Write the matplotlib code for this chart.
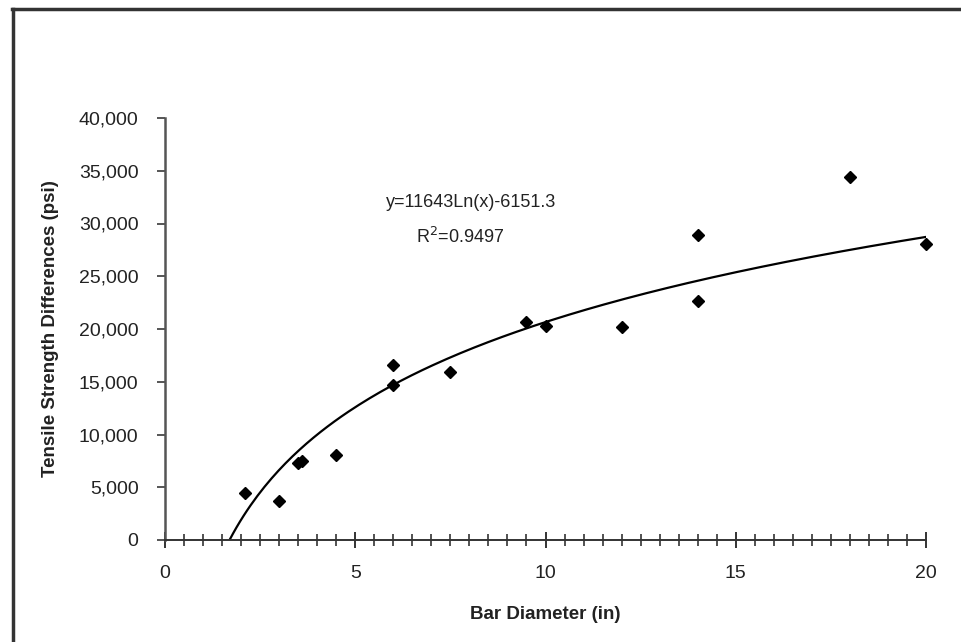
import numpy as np
import matplotlib.pyplot as plt
from matplotlib.ticker import MultipleLocator, FuncFormatter
from matplotlib.lines import Line2D

plt.rcParams['font.family'] = ['Liberation Sans', 'DejaVu Sans']

bar_diameter = [2.1, 3.0, 3.5, 3.6, 4.5, 6.0, 6.0, 7.5, 9.5, 10.0, 12.0, 14.0, 14.0, 18.0, 20.0]
strength_diff = [4450, 3650, 7300, 7500, 8050, 16600, 14700, 15900, 20700, 20250, 20150, 28900, 22650, 34400, 28100]

# logarithmic trendline given on the chart
coef_a = 11643
coef_b = -6151.3
eq_text = 'y=11643Ln(x)-6151.3'
r2_text = 'R$^2$=0.9497'

fig = plt.figure(figsize=(9.61, 6.42), dpi=100)
ax = fig.add_axes([165 / 961, 1 - 540 / 642, (926 - 165) / 961, (540 - 118) / 642])

x0 = np.exp(-coef_b / coef_a)
xs = np.linspace(x0, 20, 200)
ax.plot(xs, coef_a * np.log(xs) + coef_b, color='black', lw=1.6, zorder=2)
ax.plot(bar_diameter, strength_diff, linestyle='none', marker='D', ms=6.5,
        color='black', zorder=3, clip_on=False)

ax.set_xlim(0, 20)
ax.set_ylim(0, 40000)
ax.xaxis.set_major_locator(MultipleLocator(5))
ax.xaxis.set_minor_locator(MultipleLocator(0.5))
ax.yaxis.set_major_locator(MultipleLocator(5000))
ax.yaxis.set_major_formatter(FuncFormatter(lambda v, p: f'{int(v):,}'))

for s in ['top', 'right']:
    ax.spines[s].set_visible(False)
ax.spines['left'].set_color('#555555')
ax.spines['left'].set_linewidth(1.8)
ax.spines['bottom'].set_color('#333333')
ax.spines['bottom'].set_linewidth(1.4)

ax.tick_params(axis='x', which='major', direction='inout', length=12, width=1.4,
               color='#333333', labelsize=14, pad=12, labelcolor='#222222')
ax.tick_params(axis='x', which='minor', direction='inout', length=8, width=1.2,
               color='#333333')
ax.tick_params(axis='y', which='major', direction='out', length=6, width=1.4,
               color='#555555', labelsize=14, pad=13, labelcolor='#222222')

ax.set_xlabel('Bar Diameter (in)', fontsize=13.5, fontweight='bold', labelpad=17,
              color='#222222')
ax.set_ylabel('Tensile Strength Differences (psi)', fontsize=13.5, fontweight='bold',
              labelpad=14, color='#222222')

ax.text(8.05, 32000, eq_text, fontsize=13, ha='center', va='center', color='#222222')
ax.text(7.75, 28700, r2_text, fontsize=13, ha='center', va='center', color='#222222')

# outer frame (only top and left edges visible in the reference)
fig.add_artist(Line2D([12 / 961, 1], [1 - 9 / 642, 1 - 9 / 642],
                      transform=fig.transFigure, color='#333333', lw=2.5))
fig.add_artist(Line2D([13 / 961, 13 / 961], [0, 1 - 9 / 642],
                      transform=fig.transFigure, color='#333333', lw=2.5))

fig.savefig('out.png', dpi=100)
